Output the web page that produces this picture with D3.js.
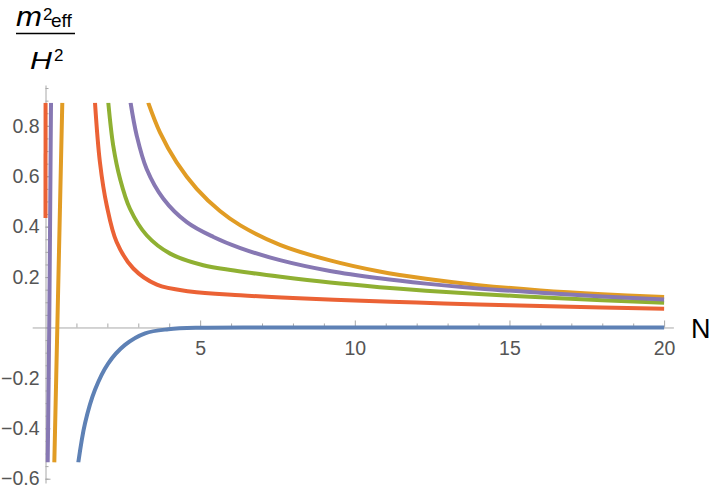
<!DOCTYPE html>
<html>
<head>
<meta charset="utf-8">
<script src="https://cdn.jsdelivr.net/npm/d3@7"></script>
<style>
  body { margin: 0; background: #fff; }
  text { font-family: "Liberation Sans", Arial, sans-serif; }
</style>
</head>
<body>
<div class="plot"></div>
<script>
var width = 713
var height = 494

// series: [N, m_eff^2 / H^2]
var blueCurve = [[1.06, -0.536], [1.28, -0.379], [1.60, -0.247], [2.03, -0.142], [2.57, -0.069],
    [3.22, -0.023], [3.97, -0.007], [5, -0.001], [8, 0], [12, 0], [16, 0], [20, 0]]
var orangeLeft = [[0.285, -0.536], [0.382, 0], [0.543, 0.892]]
var orangeRight = [[3.32, 0.892], [3.70, 0.774], [4.24, 0.655], [4.89, 0.550], [5.64, 0.462],
    [6.3, 0.405], [7.58, 0.328], [9.2, 0.266], [10.8, 0.222], [12.3, 0.193], [14, 0.168],
    [16, 0.147], [18, 0.132], [20, 0.121]]
var greenRight = [[2.03, 0.892], [2.19, 0.721], [2.41, 0.59], [2.73, 0.471], [3.27, 0.366],
    [4.03, 0.293], [5.10, 0.247], [6.1, 0.226], [7.6, 0.201], [9.2, 0.178], [10.8, 0.160],
    [12.3, 0.146], [14, 0.133], [16, 0.120], [18, 0.108], [20, 0.098]]
var redLeft = [[0, 0.434], [0.002, 0.892]]
var redRight = [[1.60, 0.892], [1.76, 0.655], [1.98, 0.484], [2.30, 0.339], [2.84, 0.234],
    [3.60, 0.170], [4.67, 0.143], [6.3, 0.128], [8, 0.117], [10, 0.107], [12, 0.099],
    [14, 0.091], [16, 0.085], [18, 0.079], [20, 0.074]]
var purpleLeft = [[0.071, -0.536], [0.12, 0], [0.178, 0.892]]
var purpleRight = [[2.75, 0.892], [2.95, 0.761], [3.27, 0.629], [3.81, 0.511], [4.57, 0.418],
    [5.43, 0.359], [6.3, 0.315], [7.58, 0.267], [9.2, 0.224], [10.8, 0.195], [12.3, 0.174],
    [14, 0.155], [16, 0.138], [18, 0.123], [20, 0.111]]

var xMajor = [5, 10, 15, 20]
var xMinor = d3.range(1, 21).filter(function (n) { return n % 5 !== 0 })
var yMajor = [-0.6, -0.4, -0.2, 0.2, 0.4, 0.6, 0.8]
var yMinor = d3.range(-12, 20).map(function (k) { return k * 0.05 })

var plotRange = [-0.536, 0.892]

var series = [
    { data: blueCurve, color: '#5E81B5' },
    { data: orangeLeft, color: '#E19C24' },
    { data: orangeRight, color: '#E19C24' },
    { data: greenRight, color: '#8FB032' },
    { data: redLeft, color: '#EB6235' },
    { data: redRight, color: '#EB6235' },
    { data: purpleLeft, color: '#8778B3' },
    { data: purpleRight, color: '#8778B3' }
]

var x = d3.scaleLinear().domain([-0.43, 20.3]).range([32.2, 673.4])
var y = d3.scaleLinear().domain([-0.617, 0.962]).range([483, 85])

var svg = d3.select('.plot').append('svg')
    .attr('width', width)
    .attr('height', height)

svg.append('clipPath').attr('id', 'clip')
    .append('rect')
    .attr('x', x(-0.43))
    .attr('y', y(plotRange[1]))
    .attr('width', x(20.3) - x(-0.43))
    .attr('height', y(plotRange[0]) - y(plotRange[1]))

// x axis
var xAxisMinor = d3.axisBottom(x).tickValues(xMinor).tickSize(-4).tickSizeOuter(0).tickFormat('')
var xAxis = d3.axisBottom(x).tickValues(xMajor).tickSize(-7).tickSizeOuter(0)

svg.append('g').attr('transform', 'translate(0,' + y(0) + ')').call(xAxisMinor)
    .call(function (g) { g.select('.domain').remove() })
svg.append('g').attr('class', 'xaxis').attr('transform', 'translate(0,' + y(0) + ')').call(xAxis)

// y axis
var yAxisMinor = d3.axisLeft(y).tickValues(yMinor).tickSize(-3).tickSizeOuter(0).tickFormat('')
var yAxis = d3.axisLeft(y).tickValues(yMajor).tickSize(-5).tickSizeOuter(0).tickPadding(6)
    .tickFormat(d3.format('.1f'))

svg.append('g').attr('transform', 'translate(' + x(0) + ',0)').call(yAxisMinor)
    .call(function (g) { g.select('.domain').remove() })
svg.append('g').attr('class', 'yaxis').attr('transform', 'translate(' + x(0) + ',0)').call(yAxis)

svg.selectAll('.domain, .tick line').attr('stroke', '#a8a8a8')
svg.selectAll('.tick text')
    .attr('fill', '#555')
    .style('font-size', '19.5px')
    .style('font-family', '"Liberation Sans", Arial, sans-serif')
svg.selectAll('.xaxis .tick text').attr('dy', 0).attr('y', 28)

// curves
var line = d3.line()
    .x(function (d) { return x(d[0]) })
    .y(function (d) { return y(d[1]) })
    .curve(d3.curveCatmullRom.alpha(0.5))

svg.append('g').attr('clip-path', 'url(#clip)')
    .selectAll('path')
    .data(series)
    .enter()
    .append('path')
    .attr('d', function (d) { return line(d.data) })
    .attr('fill', 'none')
    .attr('stroke', function (d) { return d.color })
    .attr('stroke-width', 4)
    .attr('stroke-linecap', 'butt')

// axis labels
svg.append('text').attr('x', 691).attr('y', 338)
    .style('font-size', '27px').text('N')

var lab = svg.append('g')
lab.append('text').attr('x', 16).attr('y', 26)
    .attr('textLength', 26).attr('lengthAdjust', 'spacingAndGlyphs')
    .style('font-size', '27px').style('font-style', 'italic').text('m')
lab.append('text').attr('x', 43).attr('y', 20)
    .style('font-size', '17px').text('2')
lab.append('text').attr('x', 51).attr('y', 27)
    .style('font-size', '19px').text('eff')
lab.append('line').attr('x1', 16).attr('x2', 75).attr('y1', 33.5).attr('y2', 33.5)
    .attr('stroke', '#000').attr('stroke-width', 1.6)
lab.append('text').attr('x', 30).attr('y', 69)
    .attr('textLength', 22).attr('lengthAdjust', 'spacingAndGlyphs')
    .style('font-size', '24px').style('font-style', 'italic').text('H')
lab.append('text').attr('x', 54).attr('y', 61)
    .style('font-size', '17px').text('2')
</script>
</body>
</html>
